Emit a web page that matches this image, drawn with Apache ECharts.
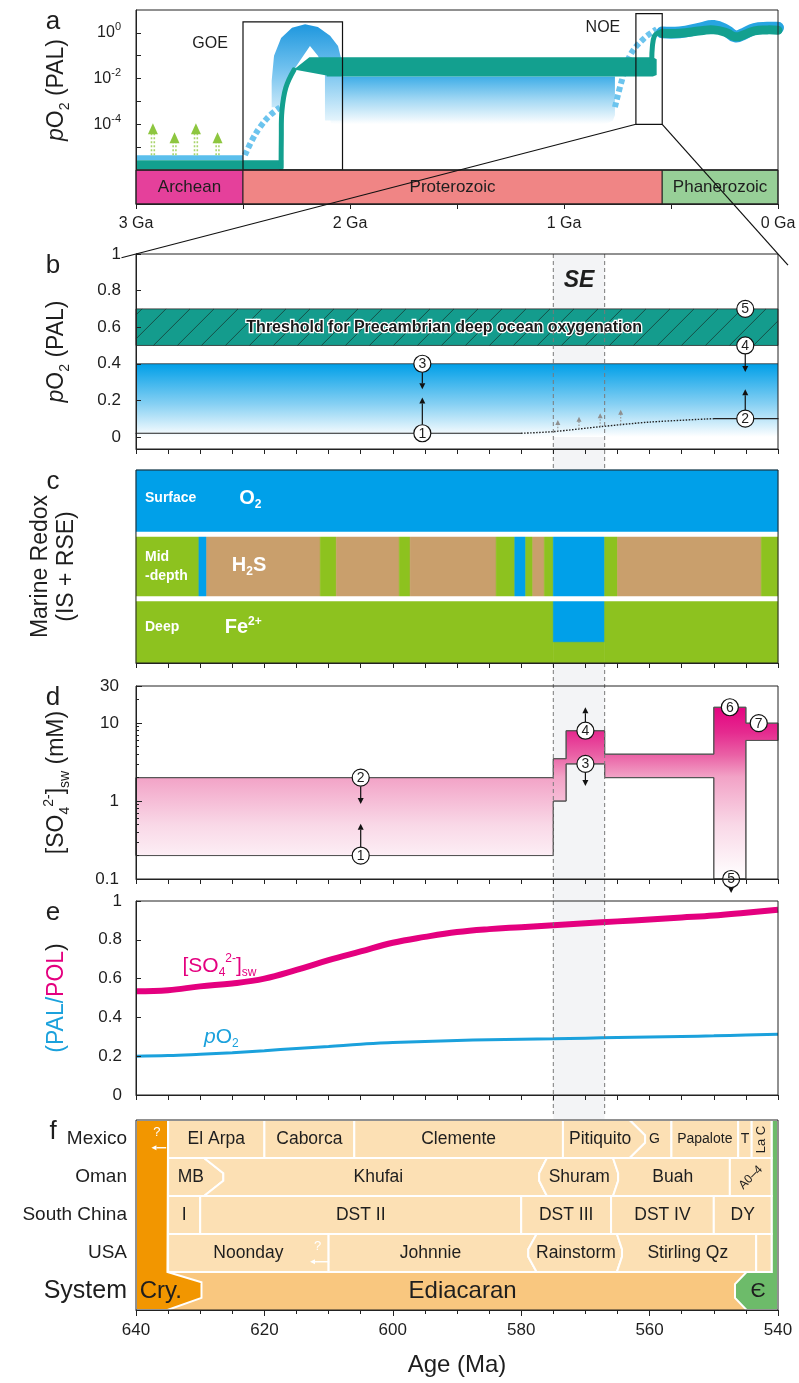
<!DOCTYPE html>
<html>
<head>
<meta charset="utf-8">
<title>Ediacaran oxygenation, marine redox and seawater sulfate</title>
<script src="https://cdn.jsdelivr.net/npm/echarts@6.0.0/dist/echarts.min.js"></script>
<style>
  html, body { margin: 0; padding: 0; background: #fff; }
  #chart { width: 799px; height: 1383px; }
</style>
</head>
<body>
<div id="chart"></div>
<script>
// ======================= data =======================

// (a) atmospheric O2 through Earth history: [age (Ga), log10 pO2 (PAL)]
const eonNames = ['Archean', 'Proterozoic', 'Phanerozoic'];
const eonEdges = [3.0, 2.5, 0.541, 0.0];
const gaTickValues = [3, 2, 1, 0];
const gaTickLabels = ['3 Ga', '2 Ga', '1 Ga', '0 Ga'];
const logTickValues = [-5, -4, -3, -2, -1, 0];
const logLabelValues = [-4, -2, 0];

const archeanBaseline = [[3.0, -5.57], [2.312, -5.57], [2.312, -5.97], [3.0, -5.97]];
const archeanWhiffBand = [[3.0, -5.35], [2.5, -5.35], [2.5, -5.57], [3.0, -5.57]];
const archeanWhiffTips = [[2.921, -3.96], [2.820, -4.35], [2.720, -3.96], [2.619, -4.35]];
const goeRiseModel = [[2.491, -5.35], [2.458, -4.70], [2.421, -4.13], [2.374, -3.61], [2.327, -3.26]];
const goeRiseRecord = [[2.322, -5.90], [2.321, -4.60], [2.318, -3.40], [2.300, -2.40], [2.262, -1.62]];
const goeOvershoot = [
  [2.366, -3.26], [2.366, -2.09], [2.355, -1.00], [2.322, -0.22], [2.271, 0.22], [2.210, 0.38],
  [2.150, 0.26], [2.093, -0.13], [2.056, -0.57], [2.039, -1.22], [2.039, -3.83], [2.117, -3.83],
  [2.117, -1.65], [2.150, -1.00], [2.187, -0.57], [2.234, -1.22], [2.280, -1.87], [2.308, -2.52], [2.308, -3.26]
];
const proterozoicBand = [[2.262, -1.60], [2.190, -1.07], [0.585, -1.07], [0.567, -1.15], [0.567, -1.84], [0.585, -1.91], [2.109, -1.91], [2.109, -1.87]];
const proterozoicLowRange = [[2.109, -1.91], [0.762, -1.91], [0.762, -3.60], [0.772, -3.85], [0.800, -3.97], [0.840, -4.00], [2.060, -4.00], [2.090, -3.95]];
const noeRiseModel = [[0.762, -3.25], [0.730, -2.09], [0.692, -1.00], [0.629, -0.27], [0.567, 0.16]];
const noeRiseRecord = [[0.590, -1.25], [0.587, -0.60], [0.578, -0.15], [0.560, 0.00], [0.541, -0.02]];
const phanerozoicModel = [[0.541, 0.02], [0.46, 0.02], [0.36, 0.20], [0.30, 0.30], [0.24, 0.09], [0.20, -0.15], [0.16, -0.04], [0.11, 0.17], [0.05, 0.22], [0.0, 0.22]];
const phanerozoicRecord = [[0.541, -0.02], [0.46, -0.02], [0.36, 0.09], [0.30, 0.13], [0.24, 0.0], [0.20, -0.17], [0.16, -0.09], [0.11, 0.09], [0.05, 0.13], [0.0, 0.11]];
const goeWindow = [2.5, 2.035, -6, 0.48];
const noeWindow = [0.664, 0.541, -4.0, 0.84];

// (b) Ediacaran pO2 (PAL) against age (Ma)
const pO2TickValues = [0, 0.2, 0.4, 0.6, 0.8, 1];
const ediacaranPO2Range = [0, 0.4];
const deepOxygenationThreshold = [0.5, 0.7];
const pO2FloorEarly = [[640, 0.02], [580, 0.02]];
const pO2FloorRise = [[580, 0.02], [575, 0.029], [567.7, 0.056], [560, 0.081], [550, 0.1]];
const pO2FloorLate = [[550, 0.1], [540, 0.1]];
const pO2FloorNudges = [[574.3, 0.031, 0.093], [571.0, 0.043, 0.11], [567.7, 0.056, 0.13], [564.5, 0.068, 0.148]];
const pO2Constraints = [[1, 595.4, 0.02], [3, 595.4, 0.4], [2, 545.1, 0.1], [4, 545.1, 0.5], [5, 545.1, 0.7]];
const pO2ConstraintArrows = [[595.4, 0.4, 0.26], [595.4, 0.02, 0.215], [545.1, 0.5, 0.355], [545.1, 0.1, 0.26]];
const shuramWindow = [575, 567];

// (c) marine redox layers
const surfaceState = 'O2';
const midDepthEdges = [640, 630.2, 629, 611.3, 608.8, 599, 597.3, 583.9, 581, 579.3, 578.2, 576.4, 575, 567, 565, 542.6, 540];
const midDepthStates = ['Fe', 'O2', 'H2S', 'Fe', 'H2S', 'Fe', 'H2S', 'Fe', 'O2', 'Fe', 'H2S', 'Fe', 'O2', 'Fe', 'H2S', 'Fe'];
const deepEdges = [640, 575, 567, 540];
const deepStates = ['Fe', 'O2', 'Fe'];
const deepOxicReach = 0.67;

// (d) seawater sulfate (mM): [older age, younger age, lower bound, upper bound]
const sulfateTickValues = [0.1, 1, 10, 30];
const sulfateMinorTicks = [0.2, 0.3, 0.4, 0.5, 0.6, 0.7, 0.8, 0.9, 2, 3, 4, 5, 6, 7, 8, 9, 20];
const sulfateSteps = [[640, 575, 0.2, 2], [575, 573, 1, 3.5], [573, 567, 3, 8], [567, 550, 2, 4], [550, 545, 0.1, 16], [545, 540, 6, 10]];
const sulfateConstraints = [[1, 605, 0.2], [2, 605, 2], [3, 570, 3], [4, 570, 8], [5, 547.3, 0.1], [6, 547.5, 16], [7, 543, 10]];
const sulfateConstraintArrows = [[605, 2, 0.92], [605, 0.2, 0.51], [570, 8, 16], [570, 3, 1.56], [547.3, 0.1, 0.066]];

// (e) model curves, relative to present levels
const modelAges = [640, 635, 630, 625, 620, 615, 610, 605, 600, 595, 590, 585, 580, 575, 570, 565, 560, 555, 550, 545, 540];
const sulfateModel = [0.535, 0.54, 0.56, 0.575, 0.60, 0.645, 0.695, 0.74, 0.785, 0.815, 0.84, 0.855, 0.865, 0.875, 0.885, 0.895, 0.905, 0.915, 0.925, 0.94, 0.955];
const pO2Model = [0.20, 0.203, 0.21, 0.218, 0.228, 0.24, 0.25, 0.262, 0.27, 0.276, 0.281, 0.285, 0.288, 0.29, 0.293, 0.296, 0.299, 0.302, 0.305, 0.309, 0.313];

// (f) stratigraphic correlation
const stratRows = ['System', 'USA', 'South China', 'Oman', 'Mexico'];
const mexicoUnits = ['El Arpa', 'Caborca', 'Clemente', 'Pitiquito', 'G', 'Papalote', 'T', 'La C'];
const mexicoEdges = [635, 620, 606, 573.5, [563.1, 560.7], 556.6, 546.2, 544.1, 541];
const omanUnits = ['MB', 'Khufai', 'Shuram', 'Buah', 'A0–4'];
const omanEdges = [635, [629.4, 626.4], [576.0, 577.2], [565.7, 564.9], 547.5, 541];
const chinaUnits = ['I', 'DST II', 'DST III', 'DST IV', 'DY'];
const chinaEdges = [635, 630, 580, 566, 550, 541];
const usaUnits = ['Noonday', 'Johnnie', 'Rainstorm', 'Stirling Qz', ''];
const usaEdges = [635, 610, [577.6, 578.9], [565.1, 564.3], 543.4, 541];
const systemNames = ['Cry.', 'Ediacaran', 'Є'];
const systemEdges = [640, [635.1, 629.8], [544.9, 546.7], 540];
const uncertainBases = [['Mexico', 635.3, 637.6], ['USA', 609.9, 612.9]];

// ======================= styles =======================
const FONT = '"Liberation Sans", Arial, Helvetica, sans-serif';
const INK = '#1e1e1e';
const TEAL = '#13A08F';
const EON_FILL = ['#E5409B', '#F08585', '#97CF97'];
const REDOX = { O2: '#00A0E9', Fe: '#8DC21F', H2S: '#C99F6C' };
const STRAT = { cry: '#F29600', edi: '#F9C77F', cell: '#FCE0B4', camb: '#6DBB6A' };
const MAGENTA = '#E4007F';
const SKY = '#1BA1DC';
const LG = echarts.graphic.LinearGradient;
const lg10 = Math.log10;

function vgrad(y1, y2, stops) {
  return new LG(0, y1, 0, y2, stops.map(s => ({ offset: s[0], color: s[1] })), true);
}
function poly(points, fill, extra) {
  return { type: 'polygon', shape: { points }, style: Object.assign({ fill }, extra || {}) };
}
function pline(points, stroke, lineWidth, dash, smooth) {
  return { type: 'polyline', shape: { points, smooth: smooth || 0 },
    style: { fill: 'none', stroke, lineWidth, lineDash: dash || null, lineCap: dash ? 'butt' : 'round', lineJoin: 'round' } };
}
function seg(p, q, stroke, lineWidth, dash) {
  return { type: 'line', shape: { x1: p[0], y1: p[1], x2: q[0], y2: q[1] }, style: { stroke, lineWidth, lineDash: dash || null } };
}
function txt(x, y, text, style, rotation) {
  return { type: 'text', x, y, rotation: rotation || 0,
    style: Object.assign({ text, fill: INK, fontSize: 16, fontFamily: FONT, align: 'center', verticalAlign: 'middle' }, style || {}) };
}
function arrowEls(p0, p1, color, width, head) {
  const dx = p1[0] - p0[0], dy = p1[1] - p0[1];
  const len = Math.hypot(dx, dy) || 1, ux = dx / len, uy = dy / len;
  const hl = head || 6, hw = hl * 0.5;
  const bx = p1[0] - ux * hl, by = p1[1] - uy * hl;
  return [
    seg(p0, [bx, by], color, width),
    poly([[p1[0], p1[1]], [bx - uy * hw, by + ux * hw], [bx + uy * hw, by - ux * hw]], color)
  ];
}
const BADGE_R = 8.5;
function badge(c, n) {
  return [
    { type: 'circle', shape: { cx: c[0], cy: c[1], r: BADGE_R }, style: { fill: '#fff', stroke: '#111', lineWidth: 1.2 } },
    txt(c[0], c[1] + 0.5, String(n), { fontSize: 14 })
  ];
}
function badgeArrow(api, age, from, to) {
  const pf = api.coord([age, from]), pt = api.coord([age, to]);
  const dir = pt[1] > pf[1] ? 1 : -1;
  return arrowEls([pf[0], pf[1] + dir * BADGE_R], pt, '#111', 1.2, 6);
}
function box(api, a, b, lo, hi) {
  const p = api.coord([a, hi]), q = api.coord([b, lo]);
  return { x: p[0], y: p[1], width: q[0] - p[0], height: q[1] - p[1] };
}

// ======================= panel renderers =======================
function renderA(api) {
  const P = pts => pts.map(p => api.coord(p));
  const els = [];
  const r1 = api.coord([1, -1.91])[1], r2 = api.coord([1, -4.0])[1];
  els.push(poly(P(proterozoicLowRange), vgrad(r1, r2, [[0, '#3EADE7'], [0.5, '#A5D9F4'], [1, '#FFFFFF']])));
  const g1 = api.coord([1, 0.38])[1], g2 = api.coord([1, -3.83])[1];
  els.push(poly(P(goeOvershoot), vgrad(g1, g2, [[0, '#1E97DE'], [0.45, '#6EC0EE'], [1, '#E4F4FC']])));
  els.push(pline(P(goeRiseModel), '#6CC4EE', 6, [5, 3], 0.4));
  els.push(pline(P(noeRiseModel), '#6CC4EE', 6, [5, 3], 0.4));
  els.push(poly(P(archeanWhiffBand), '#5BBFEC'));
  els.push(poly(P(archeanBaseline), TEAL));
  archeanWhiffTips.forEach(([ga, tip]) => {
    const t = api.coord([ga, tip]), s = api.coord([ga, -5.35]);
    els.push(seg([t[0] - 1.4, s[1]], [t[0] - 1.4, t[1] + 10], '#A9D46C', 1.6, [2, 2]));
    els.push(seg([t[0] + 1.4, s[1]], [t[0] + 1.4, t[1] + 10], '#A9D46C', 1.6, [2, 2]));
    els.push(poly([[t[0], t[1]], [t[0] - 5, t[1] + 11], [t[0] + 5, t[1] + 11]], '#8DC63F'));
  });
  els.push(pline(P(phanerozoicModel), '#27A5E2', 12, null, 0.5));
  els.push(pline(P(phanerozoicRecord), TEAL, 9, null, 0.5));
  els.push(pline(P(goeRiseRecord), TEAL, 5, null, 0.4));
  els.push(poly(P(proterozoicBand), TEAL));
  els.push(pline(P(noeRiseRecord), TEAL, 5, null, 0.4));
  [goeWindow, noeWindow].forEach(w => {
    els.push({ type: 'rect', shape: box(api, w[0], w[1], w[2], w[3]), style: { fill: 'none', stroke: '#111', lineWidth: 1.2 } });
  });
  const goe = api.coord([2.654, -0.48]), noe = api.coord([0.818, 0.22]);
  els.push(txt(goe[0], goe[1], 'GOE', { fontSize: 16 }));
  els.push(txt(noe[0], noe[1], 'NOE', { fontSize: 16 }));
  return els;
}

function renderEons(api) {
  const els = [];
  eonNames.forEach((name, i) => {
    const b = box(api, eonEdges[i], eonEdges[i + 1], 0, 1);
    els.push({ type: 'rect', shape: b, style: { fill: EON_FILL[i], stroke: '#222', lineWidth: 1 } });
    els.push(txt(b.x + b.width / 2, b.y + b.height / 2, name, { fontSize: 17 }));
  });
  return els;
}

function renderB(api) {
  const els = [];
  const blue = box(api, 640, 540, ediacaranPO2Range[0], ediacaranPO2Range[1]);
  els.push({ type: 'rect', shape: blue, style: { fill: vgrad(blue.y, blue.y + blue.height, [[0, '#009FE8'], [0.55, '#86D0F3'], [1, '#FFFFFF']]) } });
  els.push(seg([blue.x, blue.y], [blue.x + blue.width, blue.y], '#333', 0.8));
  const h = box(api, 640, 540, deepOxygenationThreshold[0], deepOxygenationThreshold[1]);
  els.push({ type: 'rect', shape: h, style: { fill: '#149C8D', stroke: '#2a2a2a', lineWidth: 0.8 } });
  const H = h.height, xl = h.x, xr = h.x + h.width, yb = h.y + h.height;
  for (let x0 = xl - H + 6; x0 < xr; x0 += 24) {
    const t0 = Math.max(0, (xl - x0) / H), t1 = Math.min(1, (xr - x0) / H);
    if (t1 <= t0) continue;
    els.push(seg([x0 + t0 * H, yb - t0 * H], [x0 + t1 * H, yb - t1 * H], '#163b35', 0.8));
  }
  const tp = api.coord([592, (deepOxygenationThreshold[0] + deepOxygenationThreshold[1]) / 2]);
  els.push(txt(tp[0], tp[1], 'Threshold for Precambrian deep ocean oxygenation',
    { fontSize: 16, fontWeight: 'bold', fill: '#1a1a1a', stroke: '#ffffff', lineWidth: 2.5 }));
  const C = pts => pts.map(p => api.coord(p));
  els.push(pline(C(pO2FloorEarly), '#222', 1.1));
  els.push(pline(C(pO2FloorRise), '#222', 1.4, [1.5, 1.5], 0.3));
  els.push(pline(C(pO2FloorLate), '#222', 1.1));
  pO2FloorNudges.forEach(([age, a, b]) => {
    const p = api.coord([age, a]), q = api.coord([age, b]);
    els.push(seg(p, [q[0], q[1] + 4], '#9a9a9a', 1.2, [1.5, 1.5]));
    els.push(poly([[q[0], q[1]], [q[0] - 2.5, q[1] + 5], [q[0] + 2.5, q[1] + 5]], '#8f8f8f'));
  });
  pO2ConstraintArrows.forEach(([age, f, t]) => badgeArrow(api, age, f, t).forEach(e => els.push(e)));
  pO2Constraints.forEach(([n, age, v]) => badge(api.coord([age, v]), n).forEach(e => els.push(e)));
  const se = api.coord([(shuramWindow[0] + shuramWindow[1]) / 2, 0.855]);
  els.push(txt(se[0], se[1], 'SE', { fontSize: 23, fontWeight: 'bold', fontStyle: 'italic' }));
  return els;
}

function renderC(api) {
  const els = [];
  const cell = (a, b, lo, hi, fill) => ({ type: 'rect', shape: box(api, a, b, lo, hi), style: { fill, stroke: fill, lineWidth: 0.6 } });
  els.push(cell(640, 540, 2, 3, REDOX[surfaceState]));
  midDepthStates.forEach((s, i) => els.push(cell(midDepthEdges[i], midDepthEdges[i + 1], 1, 2, REDOX[s])));
  deepStates.forEach((s, i) => {
    if (s === 'O2') {
      els.push(cell(deepEdges[i], deepEdges[i + 1], 0, 1, REDOX.Fe));
      els.push(cell(deepEdges[i], deepEdges[i + 1], 1 - deepOxicReach, 1, REDOX.O2));
    } else {
      els.push(cell(deepEdges[i], deepEdges[i + 1], 0, 1, REDOX[s]));
    }
  });
  [1, 2].forEach(v => els.push(seg(api.coord([640, v]), api.coord([540, v]), '#ffffff', 5)));
  const W = { fill: '#ffffff', fontWeight: 'bold', fontSize: 14, align: 'left' };
  const chem = { b: { fontSize: 20, fontWeight: 'bold', fill: '#fff', fontFamily: FONT, lineHeight: 24 },
                 s: { fontSize: 12, fontWeight: 'bold', fill: '#fff', fontFamily: FONT, verticalAlign: 'bottom', lineHeight: 12 },
                 p: { fontSize: 12, fontWeight: 'bold', fill: '#fff', fontFamily: FONT, verticalAlign: 'top', lineHeight: 12 } };
  let p = api.coord([638.6, 2.56]); els.push(txt(p[0], p[1], 'Surface', W));
  p = api.coord([638.6, 1.5]); els.push(txt(p[0], p[1], 'Mid\n-depth', Object.assign({ lineHeight: 19 }, W)));
  p = api.coord([638.6, 0.55]); els.push(txt(p[0], p[1], 'Deep', W));
  p = api.coord([622.2, 2.56]); els.push(txt(p[0], p[1], '{b|O}{s|2}', { rich: chem }));
  p = api.coord([622.4, 1.52]); els.push(txt(p[0], p[1], '{b|H}{s|2}{b|S}', { rich: chem }));
  p = api.coord([623.3, 0.55]); els.push(txt(p[0], p[1], '{b|Fe}{p|2+}', { rich: chem }));
  return els;
}

function renderD(api) {
  const els = [];
  const upper = [], lower = [];
  sulfateSteps.forEach(([o, y, lo, hi]) => { upper.push([o, lg10(hi)], [y, lg10(hi)]); });
  for (let i = sulfateSteps.length - 1; i >= 0; i--) {
    const [o, y, lo] = sulfateSteps[i];
    lower.push([y, lg10(lo)], [o, lg10(lo)]);
  }
  const pts = upper.concat(lower).map(p => api.coord(p));
  const yT = api.coord([540, lg10(30)])[1], yB = api.coord([540, -1])[1];
  els.push(poly(pts, vgrad(yT, yB, [[0, MAGENTA], [0.1, MAGENTA], [0.24, '#E52A8F'], [0.36, '#EA62A6'],
    [0.47, '#F2A2C6'], [0.72, '#F9D8E7'], [1, '#FFFFFF']]), { stroke: '#555', lineWidth: 1 }));
  sulfateConstraintArrows.forEach(([age, f, t]) => badgeArrow(api, age, lg10(f), lg10(t)).forEach(e => els.push(e)));
  sulfateConstraints.forEach(([n, age, v]) => badge(api.coord([age, lg10(v)]), n).forEach(e => els.push(e)));
  return els;
}

function renderELabels(api) {
  const rich = (col) => ({
    m: { fontSize: 21, fill: col, fontFamily: FONT, lineHeight: 26 },
    i: { fontSize: 21, fill: col, fontFamily: FONT, fontStyle: 'italic', lineHeight: 26 },
    s: { fontSize: 12, fill: col, fontFamily: FONT, verticalAlign: 'bottom', lineHeight: 12 },
    p: { fontSize: 12, fill: col, fontFamily: FONT, verticalAlign: 'top', lineHeight: 12 }
  });
  const a = api.coord([627, 0.665]), b = api.coord([626.7, 0.30]);
  return [
    txt(a[0], a[1], '{m|[SO}{s|4}{p|2-}{m|]}{s|sw}', { rich: rich(MAGENTA) }),
    txt(b[0], b[1], '{i|p}{m|O}{s|2}', { rich: rich(SKY) })
  ];
}

function stratEdge(e, r, tipLo, tipHi) {
  if (Array.isArray(e)) return [[e[0], r + 1], [e[1], r + tipHi], [e[1], r + tipLo], [e[0], r]];
  return [[e, r + 1], [e, r]];
}
function edgeMid(e) { return Array.isArray(e) ? (e[0] + e[1]) / 2 : e; }

function renderF(api) {
  const els = [];
  const C = pts => pts.map(p => api.coord(p));
  const whiteEdge = { stroke: '#ffffff', lineWidth: 2 };
  els.push({ type: 'rect', shape: box(api, 640, 540, 0, 5), style: { fill: STRAT.edi } });
  // Cryogenian and Cambrian margins
  const cryEdge = stratEdge(systemEdges[1], 0, 0.32, 0.73);
  els.push(poly(C([[640, 5], [635, 5]].concat(cryEdge, [[640, 0]])), STRAT.cry, whiteEdge));
  const cambEdge = stratEdge(systemEdges[2], 0, 0.32, 0.68).reverse();
  els.push(poly(C([[541, 5], [540, 5], [540, 0]].concat(cambEdge, [[541, 1]])), STRAT.camb, whiteEdge));
  // formation cells
  const regions = [['Mexico', mexicoUnits, mexicoEdges], ['Oman', omanUnits, omanEdges],
                   ['South China', chinaUnits, chinaEdges], ['USA', usaUnits, usaEdges]];
  const small = { 'G': 14, 'Papalote': 14, 'T': 14, 'La C': 13, 'A0–4': 12 };
  const turn = { 'La C': Math.PI / 2, 'A0–4': Math.PI / 4 };
  regions.forEach(([region, units, edges]) => {
    const r = stratRows.indexOf(region);
    units.forEach((u, i) => {
      const left = stratEdge(edges[i], r, 0.4, 0.6);
      const right = stratEdge(edges[i + 1], r, 0.4, 0.6).reverse();
      els.push(poly(C(left.concat(right)), STRAT.cell, whiteEdge));
    });
  });
  regions.forEach(([region, units, edges]) => {
    const r = stratRows.indexOf(region);
    units.forEach((u, i) => {
      if (!u) return;
      const p = api.coord([(edgeMid(edges[i]) + edgeMid(edges[i + 1])) / 2, r + 0.5]);
      els.push(txt(p[0], p[1] + 0.5, u, { fontSize: small[u] || 17.5 }, turn[u] || 0));
    });
  });
  // uncertain base arrows
  uncertainBases.forEach(([region, from, to]) => {
    const r = stratRows.indexOf(region);
    const p = api.coord([from, r + 0.27]), q = api.coord([to, r + 0.27]);
    arrowEls(p, q, '#ffffff', 1.4, 5).forEach(e => els.push(e));
    const m = api.coord([(from + to) / 2 + 0.3, r + 0.66]);
    els.push(txt(m[0], m[1], '?', { fontSize: 13, fill: '#ffffff' }));
  });
  // system names
  const sy = api.coord([638.5, 0.5]);
  els.push(txt(sy[0] - 6, sy[1], systemNames[0], { fontSize: 24, align: 'left' }));
  const ed = api.coord([(edgeMid(systemEdges[1]) + edgeMid(systemEdges[2])) / 2, 0.5]);
  els.push(txt(ed[0], ed[1], systemNames[1], { fontSize: 24 }));
  const cb = api.coord([543.1, 0.5]);
  els.push(txt(cb[0], cb[1], systemNames[2], { fontSize: 21 }));
  // row names
  stratRows.forEach((name, r) => {
    const p = api.coord([640, r + 0.5]);
    els.push(txt(p[0] - 9, p[1], name, { fontSize: name === 'System' ? 25 : 19, align: 'right' }));
  });
  return els;
}

// ======================= layout =======================
const GRIDS = [
  { left: 136, right: 21, top: 10, height: 160 },    // a: pO2 history
  { left: 136, right: 21, top: 170, height: 34 },    // a: eon bar
  { left: 136, right: 21, top: 254, height: 195 },   // b
  { left: 136, right: 21, top: 470, height: 193 },   // c
  { left: 136, right: 21, top: 686, height: 193 },   // d
  { left: 136, right: 21, top: 901, height: 194 },   // e
  { left: 136, right: 21, top: 1120, height: 190 }   // f
];
const AX = { color: '#222' };
const LINE = { show: true, onZero: false, lineStyle: AX };
const nameRich = {
  m: { fontSize: 23, fontFamily: FONT, color: INK, lineHeight: 30 },
  i: { fontSize: 23, fontFamily: FONT, color: INK, fontStyle: 'italic', lineHeight: 30 },
  s: { fontSize: 14, fontFamily: FONT, color: INK, verticalAlign: 'bottom', lineHeight: 15 },
  p: { fontSize: 14, fontFamily: FONT, color: INK, verticalAlign: 'top', lineHeight: 15 },
  bl: { fontSize: 23, fontFamily: FONT, color: SKY, lineHeight: 30 },
  mg: { fontSize: 23, fontFamily: FONT, color: MAGENTA, lineHeight: 30 }
};

function ageAxis(gi, labelled) {
  return {
    type: 'value', gridIndex: gi, min: 540, max: 640, inverse: true, interval: labelled ? 20 : 5, z: 10,
    axisLine: LINE, axisTick: { show: true, length: labelled ? 6 : 5, lineStyle: AX },
    minorTick: labelled ? { show: true, splitNumber: 4, length: 4, lineStyle: AX } : { show: false },
    axisLabel: labelled ? { fontSize: 17, color: INK, fontFamily: FONT, margin: 12 } : { show: false },
    splitLine: { show: false }, minorSplitLine: { show: false },
    name: labelled ? 'Age (Ma)' : '', nameLocation: 'middle', nameGap: 43,
    nameTextStyle: { fontSize: 24, color: INK, fontFamily: FONT }
  };
}
function yName(name, gap) {
  return { name, nameLocation: 'middle', nameRotate: 90, nameGap: gap, nameTextStyle: { rich: nameRich, fontSize: 23, color: INK, fontFamily: FONT, lineHeight: 26 } };
}
const hiddenY = (gi, min, max) => ({ type: 'value', gridIndex: gi, min, max, show: false, axisLine: { onZero: false }, splitLine: { show: false } });

const option = {
  animation: false,
  backgroundColor: '#ffffff',
  textStyle: { fontFamily: FONT },
  grid: GRIDS.map(g => Object.assign({ show: true, borderColor: '#222', borderWidth: 1, backgroundColor: 'transparent', z: 10, containLabel: false }, g)),
  xAxis: [
    { type: 'value', gridIndex: 0, min: 0, max: 3, inverse: true, show: false, axisLine: { onZero: false }, splitLine: { show: false } },
    { type: 'value', gridIndex: 1, min: 0, max: 3, inverse: true, interval: 0.5, z: 10,
      axisLine: LINE, axisTick: { length: 5, lineStyle: AX }, splitLine: { show: false },
      axisLabel: { fontSize: 16, color: INK, fontFamily: FONT, margin: 12,
        formatter: v => { const i = gaTickValues.findIndex(t => Math.abs(t - v) < 1e-6); return i >= 0 ? gaTickLabels[i] : ''; } } },
    ageAxis(2, false), ageAxis(3, false), ageAxis(4, false), ageAxis(5, false), ageAxis(6, true)
  ],
  yAxis: [
    Object.assign({ type: 'value', gridIndex: 0, min: -6, max: 1, z: 10, position: 'left',
      axisLine: LINE, splitLine: { show: false },
      axisTick: { inside: true, length: 5, lineStyle: AX, customValues: logTickValues },
      axisLabel: { customValues: logLabelValues, fontSize: 16, color: INK, fontFamily: FONT, margin: 15,
        formatter: v => '{b|10}{e|' + Math.round(v) + '}',
        rich: { b: { fontSize: 16, fontFamily: FONT, color: INK, lineHeight: 22 },
                e: { fontSize: 11, fontFamily: FONT, color: INK, verticalAlign: 'top', lineHeight: 12 } } } },
      yName('{i|p}{m|O}{s|2}{m| (PAL)}', 64)),
    hiddenY(1, 0, 1),
    Object.assign({ type: 'value', gridIndex: 2, min: -0.066, max: 1, z: 10, position: 'left',
      axisLine: LINE, splitLine: { show: false },
      axisTick: { inside: true, length: 5, lineStyle: AX, customValues: pO2TickValues },
      axisLabel: { customValues: pO2TickValues, fontSize: 17, color: INK, fontFamily: FONT, margin: 15,
        formatter: v => String(Math.round(v * 10) / 10) } },
      yName('{i|p}{m|O}{s|2}{m| (PAL)}', 64)),
    Object.assign({ type: 'value', gridIndex: 3, min: 0, max: 3, z: 10, position: 'left',
      axisLine: { show: false, onZero: false }, axisTick: { show: false }, axisLabel: { show: false }, splitLine: { show: false } },
      yName('Marine Redox\n(IS + RSE)', 56)),
    Object.assign({ type: 'value', gridIndex: 4, min: -1, max: lg10(30), z: 10, position: 'left',
      axisLine: LINE, splitLine: { show: false },
      axisTick: { inside: true, length: 6, lineStyle: AX, customValues: sulfateTickValues.map(lg10) },
      axisLabel: { customValues: sulfateTickValues.map(lg10), fontSize: 17, color: INK, fontFamily: FONT, margin: 17,
        formatter: v => String(Math.round(Math.pow(10, v) * 10) / 10) } },
      yName('{m|[SO}{s|4}{p|2-}{m|]}{s|sw}{m| (mM)}', 64)),
    { type: 'value', gridIndex: 4, min: -1, max: lg10(30), z: 10, position: 'left', offset: 0,
      axisLine: { show: false, onZero: false }, splitLine: { show: false }, axisLabel: { show: false },
      axisTick: { inside: true, length: 3, lineStyle: AX, customValues: sulfateMinorTicks.map(lg10) } },
    Object.assign({ type: 'value', gridIndex: 5, min: 0, max: 1, interval: 0.2, z: 10, position: 'left',
      axisLine: LINE, splitLine: { show: false },
      axisTick: { inside: true, length: 5, lineStyle: AX },
      axisLabel: { fontSize: 17, color: INK, fontFamily: FONT, margin: 14 } },
      yName('{bl|(PAL/}{mg|POL}{m|)}', 64)),
    hiddenY(6, 0, 5)
  ],
  series: [
    { type: 'custom', coordinateSystem: 'cartesian2d', xAxisIndex: 0, yAxisIndex: 0, data: [[1.5, -3]], silent: true, clip: false,
      renderItem: (p, api) => ({ type: 'group', children: renderA(api) }) },
    { type: 'custom', coordinateSystem: 'cartesian2d', xAxisIndex: 1, yAxisIndex: 1, data: [[1.5, 0.5]], silent: true, clip: false,
      renderItem: (p, api) => ({ type: 'group', children: renderEons(api) }) },
    { type: 'custom', coordinateSystem: 'cartesian2d', xAxisIndex: 2, yAxisIndex: 2, data: [[590, 0.5]], silent: true, clip: false,
      renderItem: (p, api) => ({ type: 'group', children: renderB(api) }) },
    { type: 'custom', coordinateSystem: 'cartesian2d', xAxisIndex: 3, yAxisIndex: 3, data: [[590, 1.5]], silent: true, clip: false,
      renderItem: (p, api) => ({ type: 'group', children: renderC(api) }) },
    { type: 'custom', coordinateSystem: 'cartesian2d', xAxisIndex: 4, yAxisIndex: 4, data: [[590, 0]], silent: true, clip: false,
      renderItem: (p, api) => ({ type: 'group', children: renderD(api) }) },
    { type: 'line', xAxisIndex: 5, yAxisIndex: 6, data: modelAges.map((a, i) => [a, sulfateModel[i]]),
      smooth: 0.4, showSymbol: false, silent: true, lineStyle: { color: MAGENTA, width: 6 }, z: 3 },
    { type: 'line', xAxisIndex: 5, yAxisIndex: 6, data: modelAges.map((a, i) => [a, pO2Model[i]]),
      smooth: 0.4, showSymbol: false, silent: true, lineStyle: { color: SKY, width: 3 }, z: 3 },
    { type: 'custom', coordinateSystem: 'cartesian2d', xAxisIndex: 5, yAxisIndex: 6, data: [[590, 0.5]], silent: true, clip: false,
      renderItem: (p, api) => ({ type: 'group', children: renderELabels(api) }) },
    { type: 'custom', coordinateSystem: 'cartesian2d', xAxisIndex: 6, yAxisIndex: 7, data: [[590, 2.5]], silent: true, clip: false,
      renderItem: (p, api) => ({ type: 'group', children: renderF(api) }) }
  ]
};

const chart = echarts.init(document.getElementById('chart'), null, { renderer: 'canvas', width: 799, height: 1383 });
chart.setOption(option);

// ---- overlays spanning several panels: SE window, zoom connectors, panel letters ----
const toPx = (xi, yi, p) => chart.convertToPixel({ xAxisIndex: xi, yAxisIndex: yi }, p);
const seL = toPx(2, 2, [shuramWindow[0], 1])[0];
const seR = toPx(2, 2, [shuramWindow[1], 1])[0];
const yBTop = toPx(2, 2, [600, 1])[1];
const yCTop = toPx(3, 3, [600, 3])[1];
const yCBot = toPx(3, 3, [600, 0])[1];
const yFTop = toPx(6, 7, [600, 5])[1];

const overlay = [
  { type: 'rect', z: -10, silent: true, shape: { x: seL, y: yBTop, width: seR - seL, height: yFTop - yBTop }, style: { fill: '#F3F4F6' } }
];
[seL, seR].forEach(x => {
  [[yBTop, yCTop], [yCBot, yFTop - 6]].forEach(([a, b]) => {
    overlay.push({ type: 'line', z: 5, silent: true, shape: { x1: x, y1: a, x2: x, y2: b }, style: { stroke: '#7a7a7a', lineWidth: 1, lineDash: [4, 3] } });
  });
});
const noeL = toPx(0, 0, [noeWindow[0], noeWindow[2]]);
const noeR = toPx(0, 0, [noeWindow[1], noeWindow[2]]);
const bTL = toPx(2, 2, [640, 1]);
const bTR = toPx(2, 2, [540, 1]);
[[noeL, bTL], [noeR, bTR]].forEach(([s, e]) => {
  const dx = e[0] - s[0], dy = e[1] - s[1], len = Math.hypot(dx, dy);
  const k = (len + 15) / len;
  overlay.push({ type: 'line', z: 20, silent: true, shape: { x1: s[0], y1: s[1], x2: s[0] + dx * k, y2: s[1] + dy * k }, style: { stroke: '#111', lineWidth: 1.2 } });
});
const letters = ['a', 'b', 'c', 'd', 'e', 'f'];
const letterAnchors = [[0, 0, [3, 1]], [2, 2, [640, 1]], [3, 3, [640, 3]], [4, 4, [640, lg10(30)]], [5, 6, [640, 1]], [6, 7, [640, 5]]];
letters.forEach((l, i) => {
  const [xi, yi, p] = letterAnchors[i];
  const px = toPx(xi, yi, p);
  overlay.push({ type: 'text', z: 20, silent: true, x: px[0] - 83, y: px[1] + 12,
    style: { text: l, fontSize: 26, fontFamily: FONT, fill: INK, align: 'center', verticalAlign: 'middle' } });
});
chart.setOption({ graphic: overlay });
</script>
</body>
</html>
